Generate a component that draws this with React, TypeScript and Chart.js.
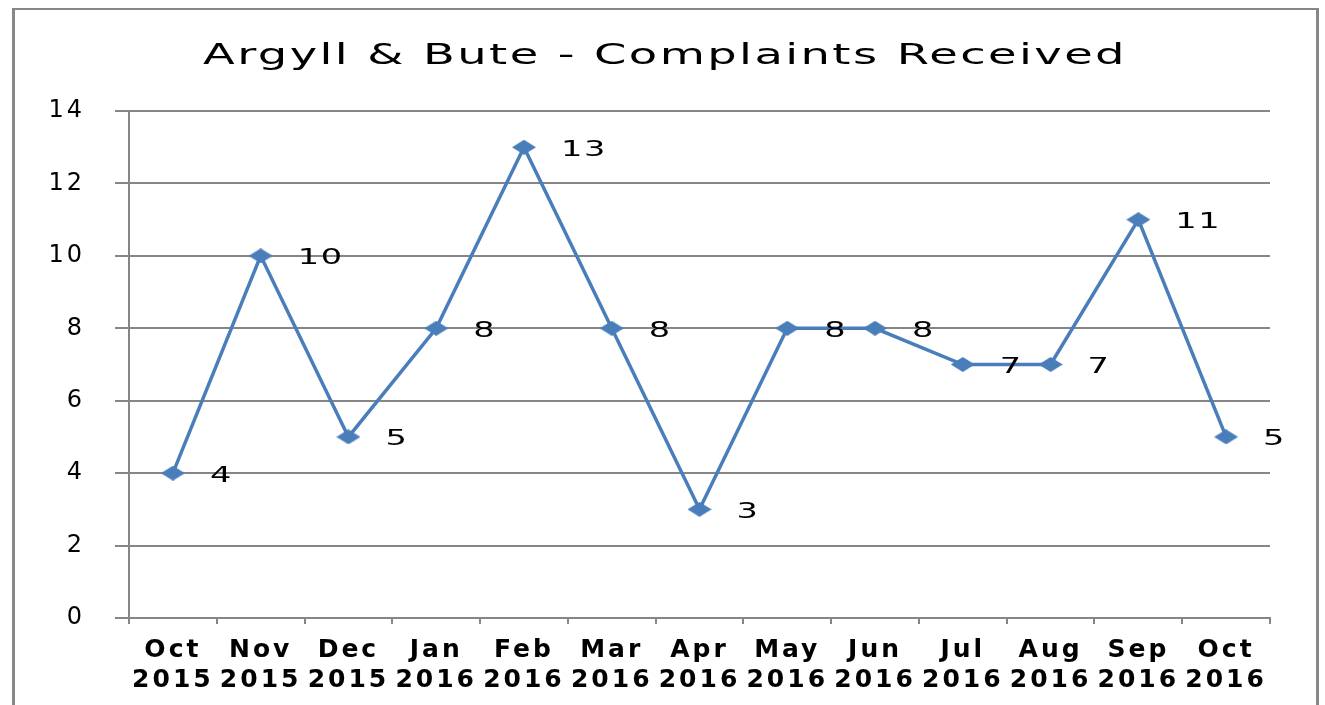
import React, { useEffect, useRef } from "react";
import { Chart, registerables } from "chart.js";

Chart.register(...registerables);

// ---- data ----
const months = ["Oct", "Nov", "Dec", "Jan", "Feb", "Mar", "Apr", "May", "Jun", "Jul", "Aug", "Sep", "Oct"];
const years = ["2015", "2015", "2015", "2016", "2016", "2016", "2016", "2016", "2016", "2016", "2016", "2016", "2016"];
const complaints = [4, 10, 5, 8, 13, 8, 3, 8, 8, 7, 7, 11, 5];
const yMin = 0;
const yMax = 14;
const yStep = 2;
const titleText = "Argyll & Bute - Complaints Received";

const FONT = '"DejaVu Sans", Verdana, sans-serif';
const LINE_COLOR = "#4A7EBB";
const GRID_COLOR = "#868686";

function makeDiamond(w: number, h: number, color: string) {
  const c = document.createElement("canvas");
  c.width = w;
  c.height = h;
  const g = c.getContext("2d")!;
  g.fillStyle = color;
  g.beginPath();
  g.moveTo(w / 2, 0);
  g.lineTo(w, h / 2);
  g.lineTo(w / 2, h);
  g.lineTo(0, h / 2);
  g.closePath();
  g.fill();
  return c;
}

const spacingPlugin = {
  id: "spacingPlugin",
  beforeDraw(chart: any) {
    (chart.ctx as any).letterSpacing = "3px";
  },
  afterDraw(chart: any) {
    (chart.ctx as any).letterSpacing = "0px";
  },
};

const titlePlugin = {
  id: "stretchedTitle",
  afterDraw(chart: any) {
    const ctx = chart.ctx;
    ctx.save();
    (ctx as any).letterSpacing = "1.5px";
    ctx.translate(650, 54);
    ctx.scale(1.6, 1);
    ctx.font = `normal 29px ${FONT}`;
    ctx.fillStyle = "#000";
    ctx.textAlign = "center";
    ctx.textBaseline = "alphabetic";
    ctx.fillText(titleText, 0, 0);
    ctx.restore();
  },
};

const dataLabelPlugin = {
  id: "dataLabels",
  afterDatasetsDraw(chart: any) {
    const ctx = chart.ctx;
    const meta = chart.getDatasetMeta(0);
    const values = chart.data.datasets[0].data;
    meta.data.forEach((pt: any, i: number) => {
      ctx.save();
      (ctx as any).letterSpacing = "1px";
      ctx.translate(pt.x + 37, pt.y + 8.5);
      ctx.scale(1.6, 1);
      ctx.font = `normal 21px ${FONT}`;
      ctx.fillStyle = "#000";
      ctx.textAlign = "left";
      ctx.textBaseline = "alphabetic";
      ctx.fillText(String(values[i]), 0, 0);
      ctx.restore();
    });
  },
};

export default function App() {
  const ref = useRef<HTMLCanvasElement | null>(null);

  useEffect(() => {
    if (!ref.current) return;
    const diamond = makeDiamond(24, 15, LINE_COLOR);
    const labels = months.map((m, i) => [m, years[i]]);
    const chart = new Chart(ref.current, {
      type: "line",
      data: {
        labels,
        datasets: [
          {
            data: complaints,
            borderColor: LINE_COLOR,
            backgroundColor: LINE_COLOR,
            borderWidth: 3.5,
            pointStyle: diamond as any,
            pointRadius: 6,
            tension: 0,
            fill: false,
          },
        ],
      },
      options: {
        responsive: false,
        animation: false,
        devicePixelRatio: 1,
        layout: { padding: { top: 101, right: 46, left: 0, bottom: 0 } },
        plugins: {
          legend: { display: false },
          tooltip: { enabled: false },
          title: { display: false },
        },
        scales: {
          x: {
            type: "category",
            offset: true,
            ticks: {
              color: "#000",
              padding: 11,
              maxRotation: 0,
              minRotation: 0,
              autoSkip: false,
              font: { family: FONT, size: 25, weight: "bold", lineHeight: 1.2 },
            },
            grid: {
              offset: true,
              drawOnChartArea: false,
              drawTicks: true,
              tickLength: 6,
              color: GRID_COLOR,
              lineWidth: 2,
            },
            border: { display: true, color: GRID_COLOR, width: 2 },
            afterFit: (s: any) => {
              s.height = 87;
            },
          },
          y: {
            min: yMin,
            max: yMax,
            ticks: {
              stepSize: yStep,
              color: "#000",
              padding: 30,
              font: { family: FONT, size: 24 },
            },
            grid: {
              color: GRID_COLOR,
              lineWidth: 2,
              drawTicks: true,
              tickLength: 14,
            },
            border: { display: true, color: GRID_COLOR, width: 2 },
            afterFit: (s: any) => {
              s.width = 114;
            },
          },
        },
      } as any,
      plugins: [spacingPlugin, titlePlugin, dataLabelPlugin],
    });
    return () => chart.destroy();
  }, []);

  return (
    <div
      style={{
        position: "absolute",
        left: 12,
        top: 8,
        width: 1307,
        height: 697,
        boxSizing: "border-box",
        borderTop: "2px solid #878787",
        borderLeft: "3px solid #878787",
        borderRight: "3px solid #878787",
        borderBottom: "none",
        background: "#fff",
      }}
    >
      <canvas ref={ref} width={1301} height={695} style={{ display: "block", width: 1301, height: 695 }} />
    </div>
  );
}
